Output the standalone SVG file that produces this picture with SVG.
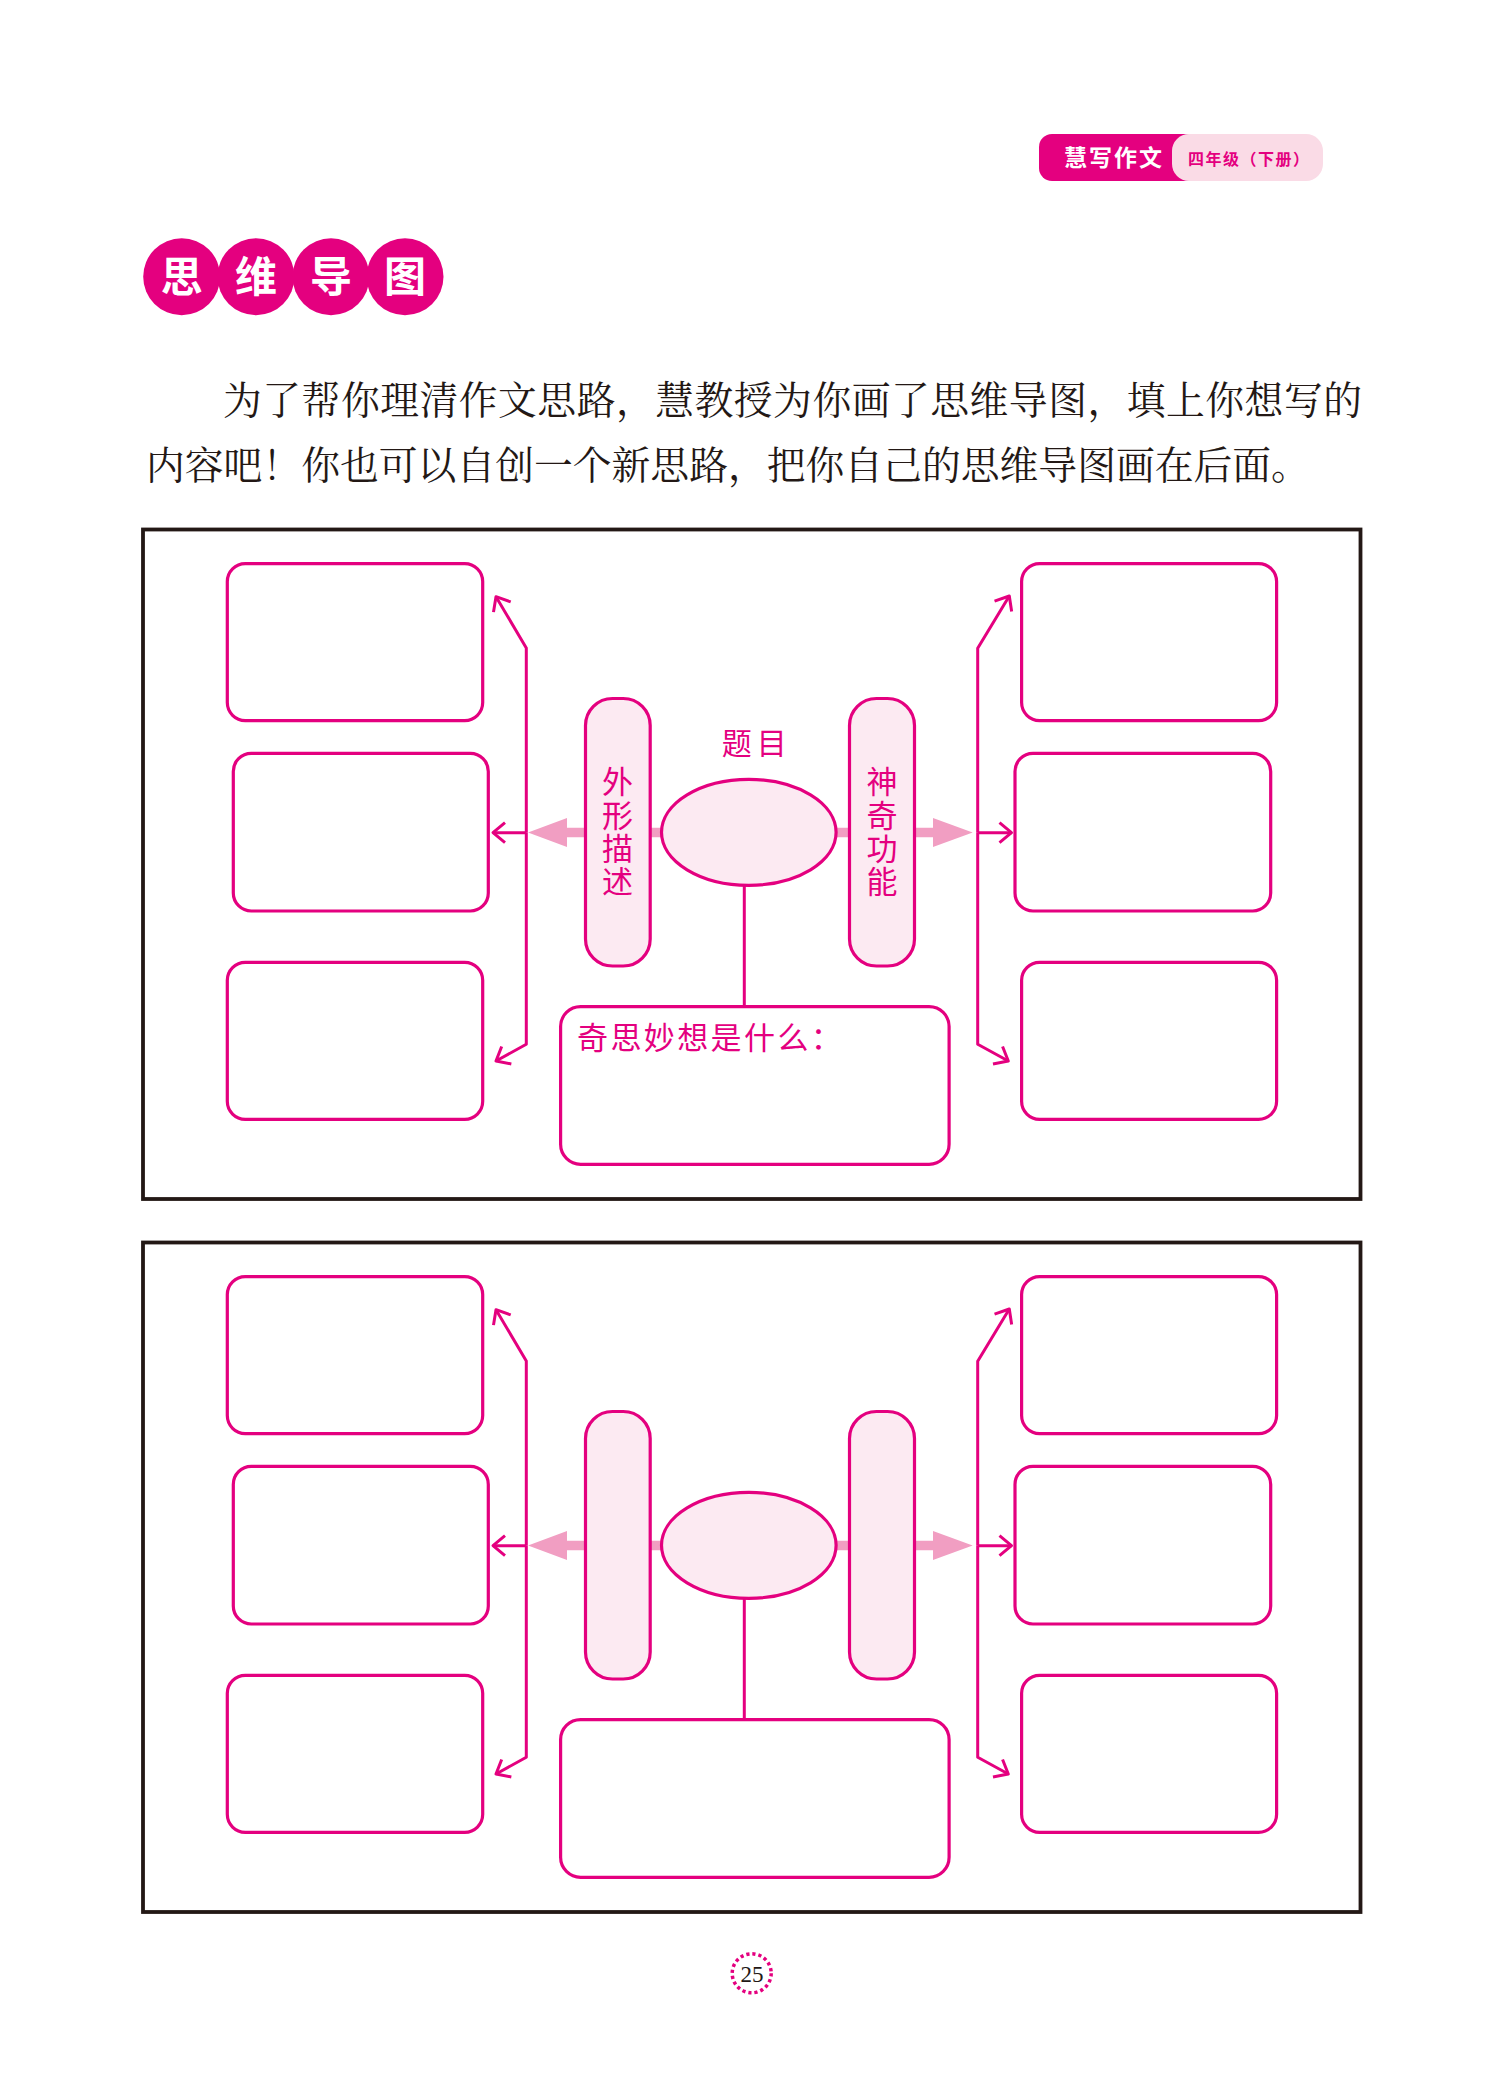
<svg xmlns="http://www.w3.org/2000/svg" width="1504" height="2095" viewBox="0 0 1504 2095">
<defs>
<style>
.box{fill:#fff;stroke:#E4007F;stroke-width:3.2}
.pill{fill:#FCEAF2;stroke:#E4007F;stroke-width:3.2}
.frame{fill:none;stroke:#231815;stroke-width:3.8}
.conn{fill:none;stroke:#E4007F;stroke-width:3;stroke-linejoin:round;marker-end:url(#ah)}
.stem{fill:none;stroke:#E4007F;stroke-width:3}
.shaft{fill:none;stroke:#F19EC2;stroke-width:9.5}
.tri{fill:#F19EC2}
.pk{font-family:"Noto Sans CJK SC","Noto Sans",sans-serif;fill:#E4007F}
.vt{writing-mode:vertical-rl;font-size:31px;letter-spacing:2.3px}
.body{font-family:"Noto Serif CJK SC","Noto Sans CJK SC",serif;fill:#231815;font-size:38.8px}
.tc{font-family:"Noto Sans CJK SC",sans-serif;fill:#fff;font-weight:bold;font-size:42px;text-anchor:middle}
</style>
<marker id="ah" markerUnits="userSpaceOnUse" markerWidth="30" markerHeight="30" viewBox="-15 -15 30 30" refX="0" refY="0" orient="auto" overflow="visible">
<path d="M-12,-10 L0,0 L-12,10" fill="none" stroke="#E4007F" stroke-width="3" stroke-linejoin="round"/>
</marker>
</defs>
<rect width="1504" height="2095" fill="#fff"/>

<g id="header-badge">
<rect x="1039" y="134" width="160" height="47" rx="13" fill="#E4007F"/>
<rect x="1172" y="134" width="151" height="47" rx="17" fill="#FADBE6"/>
<text x="1064" y="166" font-family="Noto Sans CJK SC,sans-serif" font-weight="bold" font-size="23" letter-spacing="2" fill="#fff">慧写作文</text>
<text x="1188" y="164.5" font-family="Noto Sans CJK SC,sans-serif" font-weight="bold" font-size="16" fill="#E4007F" textLength="121" lengthAdjust="spacing">四年级（下册）</text>
</g>

<g id="title">
<circle cx="181.7" cy="276.7" r="38.5" fill="#E4007F"/>
<circle cx="256" cy="276.7" r="38.5" fill="#E4007F"/>
<circle cx="331" cy="276.7" r="38.5" fill="#E4007F"/>
<circle cx="405" cy="276.7" r="38.5" fill="#E4007F"/>
<text class="tc" x="181.7" y="292">思</text>
<text class="tc" x="256" y="292">维</text>
<text class="tc" x="331" y="292">导</text>
<text class="tc" x="405" y="292">图</text>
</g>

<g id="intro">
<text class="body" x="223" y="414" textLength="1139" lengthAdjust="spacing">为了帮你理清作文思路，慧教授为你画了思维导图，填上你想写的</text>
<text class="body" x="146" y="479">内容吧！你也可以自创一个新思路，把你自己的思维导图画在后面。</text>
</g>

<!-- ===== Map 1 ===== -->
<g id="frame1"><rect class="frame" x="143" y="529.5" width="1217.5" height="669.5"/></g>

<g id="connectors1">
<line class="shaft" x1="566" y1="832.5" x2="662" y2="832.5"/>
<polygon class="tri" points="528,832.5 567,818 567,847"/>
<line class="shaft" x1="836" y1="832.5" x2="934" y2="832.5"/>
<polygon class="tri" points="972.7,832.5 933,818 933,847"/>
<path class="conn" d="M526.3,832.7 L526.3,648 L496,596.7"/>
<path class="conn" d="M526.3,832.7 L526.3,1044.3 L496,1061"/>
<path class="conn" d="M526.3,832.7 L493,832.7"/>
<path class="conn" d="M977.7,832.7 L977.7,648.3 L1009.3,596"/>
<path class="conn" d="M977.7,832.7 L977.7,1044.3 L1008.3,1061"/>
<path class="conn" d="M977.7,832.7 L1011.5,832.7"/>
<line class="stem" x1="744.3" y1="885" x2="744.3" y2="1007"/>
</g>

<g id="m1-box-tl"><rect class="box" x="227.3" y="563.6" width="255.4" height="157" rx="18"/></g>
<g id="m1-box-ml"><rect class="box" x="233.3" y="753.4" width="255" height="157.6" rx="18"/></g>
<g id="m1-box-bl"><rect class="box" x="227.3" y="962.3" width="255.4" height="157" rx="18"/></g>
<g id="m1-box-tr"><rect class="box" x="1021.6" y="563.6" width="255" height="157" rx="18"/></g>
<g id="m1-box-mr"><rect class="box" x="1015" y="753.4" width="255.7" height="157.6" rx="18"/></g>
<g id="m1-box-br"><rect class="box" x="1021.6" y="962.3" width="255" height="157" rx="18"/></g>

<g id="m1-pill-left">
<rect class="pill" x="585.5" y="698.5" width="64.7" height="267.5" rx="27"/>
<text class="pk vt" x="617.5" y="766">外形描述</text>
</g>
<g id="m1-pill-right">
<rect class="pill" x="849.5" y="698.5" width="65" height="267.5" rx="27"/>
<text class="pk vt" x="882" y="766">神奇功能</text>
</g>
<g id="m1-topic">
<ellipse class="pill" cx="748.8" cy="832.3" rx="87.3" ry="53"/>
<text class="pk" font-size="30" letter-spacing="5" x="721.7" y="754">题目</text>
</g>
<g id="m1-box-bottom">
<rect class="box" x="560.6" y="1006.6" width="388.5" height="157.7" rx="20"/>
<text class="pk" font-size="31" letter-spacing="2.4" x="577" y="1048.5">奇思妙想是什么：</text>
</g>

<!-- ===== Map 2 ===== -->
<g transform="translate(0,713)">
<g id="frame2"><rect class="frame" x="143" y="529.5" width="1217.5" height="669.5"/></g>
<g id="connectors2">
<line class="shaft" x1="566" y1="832.5" x2="662" y2="832.5"/>
<polygon class="tri" points="528,832.5 567,818 567,847"/>
<line class="shaft" x1="836" y1="832.5" x2="934" y2="832.5"/>
<polygon class="tri" points="972.7,832.5 933,818 933,847"/>
<path class="conn" d="M526.3,832.7 L526.3,648 L496,596.7"/>
<path class="conn" d="M526.3,832.7 L526.3,1044.3 L496,1061"/>
<path class="conn" d="M526.3,832.7 L493,832.7"/>
<path class="conn" d="M977.7,832.7 L977.7,648.3 L1009.3,596"/>
<path class="conn" d="M977.7,832.7 L977.7,1044.3 L1008.3,1061"/>
<path class="conn" d="M977.7,832.7 L1011.5,832.7"/>
<line class="stem" x1="744.3" y1="885" x2="744.3" y2="1007"/>
</g>
<g id="m2-box-tl"><rect class="box" x="227.3" y="563.6" width="255.4" height="157" rx="18"/></g>
<g id="m2-box-ml"><rect class="box" x="233.3" y="753.4" width="255" height="157.6" rx="18"/></g>
<g id="m2-box-bl"><rect class="box" x="227.3" y="962.3" width="255.4" height="157" rx="18"/></g>
<g id="m2-box-tr"><rect class="box" x="1021.6" y="563.6" width="255" height="157" rx="18"/></g>
<g id="m2-box-mr"><rect class="box" x="1015" y="753.4" width="255.7" height="157.6" rx="18"/></g>
<g id="m2-box-br"><rect class="box" x="1021.6" y="962.3" width="255" height="157" rx="18"/></g>
<g id="m2-pill-left"><rect class="pill" x="585.5" y="698.5" width="64.7" height="267.5" rx="27"/></g>
<g id="m2-pill-right"><rect class="pill" x="849.5" y="698.5" width="65" height="267.5" rx="27"/></g>
<g id="m2-topic"><ellipse class="pill" cx="748.8" cy="832.3" rx="87.3" ry="53"/></g>
<g id="m2-box-bottom"><rect class="box" x="560.6" y="1006.6" width="388.5" height="157.7" rx="20"/></g>
</g>

<g id="page-number">
<circle cx="751.7" cy="1973.3" r="19.5" fill="none" stroke="#E4007F" stroke-width="3.5" stroke-dasharray="3.2 2.93"/>
<text x="752" y="1981.5" font-family="Liberation Serif,serif" font-size="23" text-anchor="middle" fill="#231815">25</text>
</g>
</svg>
